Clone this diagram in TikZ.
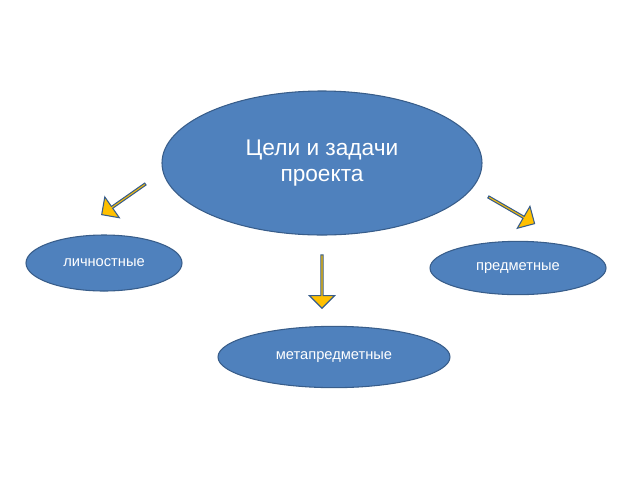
\documentclass[tikz,border=0pt]{standalone}
\usepackage{fontspec}
\setmainfont{Liberation Sans}
\usetikzlibrary{shapes.geometric, shapes.arrows}
\definecolor{goalfill}{HTML}{4F81BD}
\definecolor{goaldraw}{HTML}{385D8A}
\definecolor{arrowfill}{HTML}{FFC000}
\tikzset{
    goalnode/.style={
        ellipse,
        draw=goaldraw, % тёмная рамка
        fill=goalfill,
        thick,
        inner sep=0,
        text=white,
        font=\fontsize{11}{13}\selectfont
    },
    blockarrow/.style={
        single arrow,
        draw=goaldraw,
        fill=arrowfill,
        thick,
        minimum width=19pt,
        single arrow head extend=4pt,
        minimum height=40pt,
        inner sep=0
    }
}
\begin{document}
\begin{tikzpicture}[x=0.75pt, y=-0.75pt]
    \useasboundingbox (0,0) rectangle (640,480);
    % центральный эллипс
    \node[goalnode, minimum width=240pt, minimum height=108pt,
          align=center, font=\fontsize{17}{20}\selectfont] (goal) at (322,163)
          {Цели и задачи\\проекта};
    % виды результатов
    \node[goalnode, minimum width=117pt, minimum height=42pt] (pers) at (104,263) {личностные};
    \node[goalnode, minimum width=132pt, minimum height=40pt] (subj) at (518,268) {предметные};
    \node[goalnode, minimum width=174pt, minimum height=46pt] (meta) at (334,357) {метапредметные};
    % стрелки
    \node[blockarrow, rotate=-145] (toPers) at (124,199) {};
    \node[blockarrow, rotate=-30] (toSubj) at (511,210) {};
    \node[blockarrow, rotate=-90] (toMeta) at (322,281) {};
\end{tikzpicture}
\end{document}
